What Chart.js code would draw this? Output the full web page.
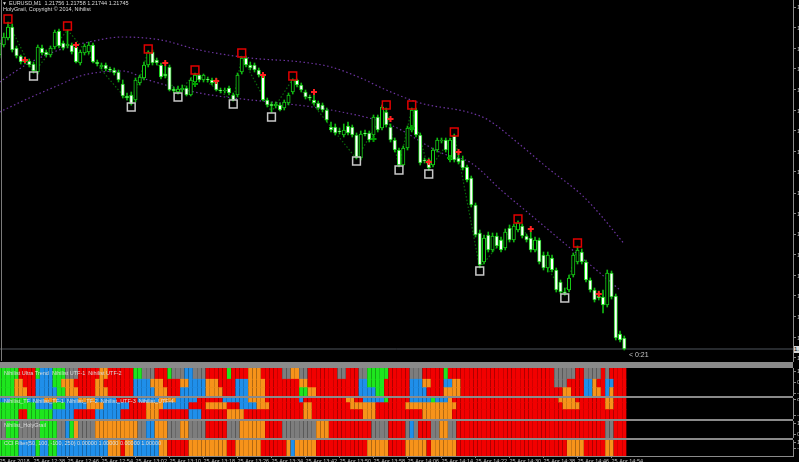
<!DOCTYPE html>
<html>
<head>
<meta charset="utf-8">
<script src="https://cdn.jsdelivr.net/npm/chart.js@4.4.0/dist/chart.umd.min.js"></script>
<style>
  html, body { margin: 0; padding: 0; background: #000; }
  #wrap { position: relative; width: 799px; height: 462px; overflow: hidden; background: #000; }
  #wrap canvas { position: absolute; left: 0; }
  .txt { position: absolute; color: #dcdcdc; font-family: "Liberation Sans", Arial, sans-serif; font-size: 5.5px; line-height: 1; white-space: pre; }
  .sep { position: absolute; left: 0; width: 793px; background: #8a8a8a; }
</style>
</head>
<body>
<div id="wrap">
  <canvas id="main" width="799" height="362" style="top:0"></canvas>
  <canvas id="sub1" width="799" height="28" style="top:368px"></canvas>
  <canvas id="sub2" width="799" height="21" style="top:398px"></canvas>
  <canvas id="sub3" width="799" height="17" style="top:421px"></canvas>
  <canvas id="sub4" width="799" height="22" style="top:440px"></canvas>

  <div class="sep" style="top:362px;height:6px"></div>
  <div class="sep" style="top:396px;height:2px"></div>
  <div class="sep" style="top:419px;height:2px"></div>
  <div class="sep" style="top:438px;height:2px"></div>
  <div style="position:absolute;left:1px;top:0;width:1px;height:361px;background:#7a7a7a"></div>

  <div class="txt" style="left:2px;top:1px;font-size:5px">&#9660;</div>
  <div class="txt" style="left:9px;top:1px">EURUSD,M1  1.21756 1.21758 1.21744 1.21745</div>
  <div class="txt" style="left:3px;top:7px">HolyGrail, Copyright © 2014, Nihilist</div>
  <div class="txt" style="left:629px;top:351px;font-size:7px;color:#c8c8c8">&lt; 0:21</div>
  <div class="txt" style="left:794px;top:346px;width:30px;height:7px;background:#d8d8d8;color:#000;font-size:6px">1.21745</div>

  <div class="txt" style="left:4px;top:371px">Nihilist Ultra Trend  Nihilist UTF-1  Nihilist UTF-2</div>
  <div class="txt" style="left:4px;top:399px">Nihilist_TF  Nihilist_TF-1  Nihilist_TF-2  Nihilist_UTF-3  Nihilist_UTF-4</div>
  <div class="txt" style="left:4px;top:423px">Nihilist_HolyGrail</div>
  <div class="txt" style="left:4px;top:441px">CCI Filter(50, 100, -100, 250) 0.00000 1.00000 0.00000 1.00000</div>
</div>

<script>
// EURUSD M1, 25 Apr 2018, 12:30 .. 14:57 (one entry per minute bar)
const OPEN = [
  1.22039, 1.22049, 1.22056, 1.22067, 1.22046, 1.22038, 1.22034, 1.22033, 1.22030, 1.22022,
  1.22046, 1.22042, 1.22039, 1.22047, 1.22063, 1.22051, 1.22048, 1.22049, 1.22047, 1.22031,
  1.22041, 1.22042, 1.22049, 1.22032, 1.22027, 1.22029, 1.22025, 1.22024, 1.22022, 1.22010,
  1.21998, 1.21999, 1.21994, 1.22011, 1.22016, 1.22029, 1.22042, 1.22034, 1.22029, 1.22020,
  1.22027, 1.22005, 1.22002, 1.22004, 1.22006, 1.21999, 1.22012, 1.22019, 1.22014, 1.22015,
  1.22014, 1.22014, 1.22004, 1.22003, 1.22006, 1.21999, 1.21999, 1.22022, 1.22036, 1.22029,
  1.22029, 1.22024, 1.22018, 1.21994, 1.21990, 1.21988, 1.21989, 1.21986, 1.21991, 1.22002,
  1.22014, 1.22009, 1.22002, 1.21997, 1.21994, 1.21991, 1.21989, 1.21984, 1.21967, 1.21967,
  1.21963, 1.21959, 1.21968, 1.21967, 1.21959, 1.21936, 1.21961, 1.21961, 1.21959, 1.21977,
  1.21966, 1.21982, 1.21967, 1.21954, 1.21944, 1.21929, 1.21946, 1.21964, 1.21984, 1.21959,
  1.21934, 1.21934, 1.21929, 1.21944, 1.21953, 1.21954, 1.21934, 1.21958, 1.21936, 1.21934,
  1.21927, 1.21916, 1.21889, 1.21861, 1.21832, 1.21859, 1.21844, 1.21858, 1.21854, 1.21846,
  1.21866, 1.21854, 1.21864, 1.21868, 1.21858, 1.21856, 1.21844, 1.21854, 1.21839, 1.21826,
  1.21836, 1.21824, 1.21812, 1.21802, 1.21804, 1.21819, 1.21832, 1.21842, 1.21832, 1.21814,
  1.21804, 1.21798, 1.21797, 1.21789, 1.21821, 1.21798, 1.21760, 1.21756
];
const HIGH = [
  1.22054, 1.22061, 1.22072, 1.22070, 1.22048, 1.22039, 1.22037, 1.22035, 1.22032, 1.22049,
  1.22049, 1.22044, 1.22048, 1.22064, 1.22065, 1.22053, 1.22064, 1.22051, 1.22049, 1.22044,
  1.22050, 1.22052, 1.22051, 1.22034, 1.22031, 1.22031, 1.22027, 1.22026, 1.22024, 1.22014,
  1.22001, 1.22002, 1.22016, 1.22019, 1.22032, 1.22043, 1.22044, 1.22036, 1.22031, 1.22028,
  1.22029, 1.22007, 1.22008, 1.22009, 1.22008, 1.22016, 1.22021, 1.22020, 1.22020, 1.22017,
  1.22016, 1.22016, 1.22006, 1.22006, 1.22008, 1.22001, 1.22021, 1.22037, 1.22038, 1.22032,
  1.22031, 1.22026, 1.22020, 1.21996, 1.21992, 1.21992, 1.21991, 1.21994, 1.22001, 1.22015,
  1.22015, 1.22011, 1.22004, 1.21999, 1.21999, 1.21993, 1.21991, 1.21986, 1.21972, 1.21970,
  1.21966, 1.21970, 1.21972, 1.21969, 1.21961, 1.21963, 1.21964, 1.21963, 1.21979, 1.21979,
  1.21989, 1.21986, 1.21970, 1.21956, 1.21946, 1.21948, 1.21968, 1.21986, 1.21986, 1.21961,
  1.21936, 1.21936, 1.21946, 1.21956, 1.21956, 1.21956, 1.21956, 1.21960, 1.21942, 1.21938,
  1.21929, 1.21918, 1.21891, 1.21864, 1.21859, 1.21862, 1.21861, 1.21861, 1.21857, 1.21865,
  1.21869, 1.21870, 1.21873, 1.21870, 1.21860, 1.21864, 1.21857, 1.21856, 1.21842, 1.21842,
  1.21839, 1.21826, 1.21814, 1.21806, 1.21819, 1.21841, 1.21848, 1.21845, 1.21834, 1.21816,
  1.21806, 1.21803, 1.21804, 1.21824, 1.21823, 1.21800, 1.21763, 1.21758
];
const LOW = [
  1.22036, 1.22047, 1.22054, 1.22042, 1.22036, 1.22030, 1.22030, 1.22027, 1.22021, 1.22020,
  1.22039, 1.22037, 1.22037, 1.22045, 1.22046, 1.22044, 1.22046, 1.22040, 1.22031, 1.22029,
  1.22039, 1.22040, 1.22031, 1.22028, 1.22025, 1.22023, 1.22022, 1.22019, 1.22012, 1.21996,
  1.21994, 1.21989, 1.21992, 1.22009, 1.22014, 1.22027, 1.22029, 1.22029, 1.22015, 1.22016,
  1.22003, 1.22001, 1.22000, 1.22002, 1.21998, 1.21998, 1.22010, 1.22012, 1.22012, 1.22012,
  1.22009, 1.22003, 1.22001, 1.22001, 1.21999, 1.21993, 1.21997, 1.22020, 1.22027, 1.22024,
  1.22022, 1.22017, 1.21993, 1.21987, 1.21982, 1.21986, 1.21983, 1.21984, 1.21989, 1.22000,
  1.22007, 1.22002, 1.21995, 1.21994, 1.21989, 1.21984, 1.21982, 1.21972, 1.21962, 1.21959,
  1.21960, 1.21957, 1.21959, 1.21957, 1.21935, 1.21934, 1.21958, 1.21952, 1.21957, 1.21962,
  1.21964, 1.21967, 1.21952, 1.21942, 1.21927, 1.21928, 1.21944, 1.21962, 1.21957, 1.21929,
  1.21931, 1.21924, 1.21927, 1.21942, 1.21951, 1.21942, 1.21932, 1.21932, 1.21930, 1.21924,
  1.21912, 1.21887, 1.21857, 1.21826, 1.21830, 1.21842, 1.21842, 1.21846, 1.21842, 1.21844,
  1.21852, 1.21852, 1.21862, 1.21856, 1.21852, 1.21842, 1.21842, 1.21830, 1.21824, 1.21822,
  1.21822, 1.21802, 1.21800, 1.21799, 1.21802, 1.21817, 1.21830, 1.21830, 1.21812, 1.21802,
  1.21792, 1.21794, 1.21781, 1.21787, 1.21795, 1.21754, 1.21752, 1.21744
];
const CLOSE = [
  1.22051, 1.22057, 1.22067, 1.22044, 1.22038, 1.22032, 1.22032, 1.22029, 1.22023, 1.22047,
  1.22041, 1.22039, 1.22046, 1.22062, 1.22048, 1.22046, 1.22050, 1.22042, 1.22032, 1.22042,
  1.22048, 1.22049, 1.22032, 1.22030, 1.22029, 1.22025, 1.22024, 1.22021, 1.22014, 1.21998,
  1.21996, 1.21990, 1.22014, 1.22017, 1.22029, 1.22042, 1.22031, 1.22031, 1.22017, 1.22018,
  1.22004, 1.22003, 1.22005, 1.22006, 1.21999, 1.22014, 1.22019, 1.22014, 1.22019, 1.22014,
  1.22011, 1.22004, 1.22003, 1.22004, 1.22001, 1.21994, 1.22019, 1.22036, 1.22029, 1.22026,
  1.22024, 1.22019, 1.21994, 1.21989, 1.21988, 1.21990, 1.21984, 1.21992, 1.21999, 1.22014,
  1.22009, 1.22004, 1.21997, 1.21996, 1.21991, 1.21986, 1.21984, 1.21974, 1.21964, 1.21961,
  1.21962, 1.21964, 1.21961, 1.21959, 1.21937, 1.21960, 1.21960, 1.21954, 1.21977, 1.21964,
  1.21987, 1.21969, 1.21954, 1.21944, 1.21929, 1.21946, 1.21966, 1.21984, 1.21959, 1.21931,
  1.21933, 1.21926, 1.21944, 1.21954, 1.21954, 1.21944, 1.21954, 1.21934, 1.21932, 1.21926,
  1.21914, 1.21889, 1.21859, 1.21829, 1.21856, 1.21844, 1.21858, 1.21848, 1.21844, 1.21862,
  1.21854, 1.21868, 1.21871, 1.21858, 1.21854, 1.21844, 1.21854, 1.21832, 1.21826, 1.21839,
  1.21824, 1.21804, 1.21802, 1.21801, 1.21816, 1.21839, 1.21844, 1.21832, 1.21814, 1.21804,
  1.21794, 1.21796, 1.21789, 1.21821, 1.21797, 1.21756, 1.21754, 1.21745
];
const BID = 1.21745;

// swing markers of the HolyGrail indicator
const SELL_BOX_BARS = [2, 16, 35, 46, 57, 69, 91, 97, 107, 122, 136];
const SELL_BOX_PRICES = [1.22075, 1.22068, 1.22045, 1.22024, 1.22041, 1.22018, 1.21989, 1.21989, 1.21962, 1.21875, 1.21851];
const BUY_BOX_BARS = [8, 31, 42, 55, 64, 84, 94, 101, 113, 133];
const BUY_BOX_PRICES = [1.22018, 1.21987, 1.21997, 1.21990, 1.21977, 1.21933, 1.21924, 1.21920, 1.21823, 1.21796];
const SELL_CROSS_BARS = [6, 18, 39, 51, 62, 74, 92, 101, 108, 125, 141];
const SELL_CROSS_PRICES = [1.22034, 1.22049, 1.22031, 1.22013, 1.22019, 1.22002, 1.21975, 1.21932, 1.21942, 1.21865, 1.21800];
const BUY_CROSS_BARS = [46, 88, 97, 106];
const BUY_CROSS_PRICES = [1.22010, 1.21955, 1.21966, 1.21936];
const ZIGZAG_BARS = [2, 8, 16, 31, 35, 42, 46, 55, 57, 64, 69, 84, 91, 94, 97, 101, 107, 113, 122, 133, 136];
const ZIGZAG_PRICES = [1.22072, 1.22021, 1.22064, 1.21989, 1.22043, 1.22000, 1.22021, 1.21993, 1.22037, 1.21982,
  1.22015, 1.21935, 1.21986, 1.21927, 1.21986, 1.21924, 1.21960, 1.21826, 1.21873, 1.21799, 1.21848];

// envelope bands (sampled)
const UPPER_BARS = [0, 7, 14, 21, 29, 38, 47, 59, 71, 78, 85, 91, 99, 111, 115, 122, 129, 137, 141, 147];
const UPPER_PRICES = [1.22012, 1.22031, 1.22044, 1.22052, 1.22057, 1.22054, 1.22044, 1.22036, 1.22032, 1.22027,
  1.22016, 1.22004, 1.21991, 1.21981, 1.21974, 1.21951, 1.21926, 1.21899, 1.21881, 1.21850];
const LOWER_BARS = [0, 7, 14, 19, 24, 29, 35, 47, 55, 66, 78, 92, 104, 111, 118, 125, 132, 141, 146];
const LOWER_PRICES = [1.21982, 1.21996, 1.22009, 1.22018, 1.22022, 1.22023, 1.22014, 1.22001, 1.21996, 1.21991,
  1.21984, 1.21969, 1.21941, 1.21931, 1.21904, 1.21879, 1.21854, 1.21822, 1.21804];

const PRICE_TICKS = [1.22087, 1.22066, 1.22045, 1.22025, 1.22004, 1.21983, 1.21963, 1.21942, 1.21922,
  1.21901, 1.21880, 1.21860, 1.21839, 1.21818, 1.21798, 1.21777, 1.21756, 1.21736];

const TIME_TICKS = [0, 8, 16, 24, 32, 40, 48, 56, 64, 72, 80, 88, 96, 104, 112, 120, 128, 136, 144];
const TIME_LABELS = ['25 Apr 2018', '25 Apr 12:38', '25 Apr 12:46', '25 Apr 12:54', '25 Apr 13:02', '25 Apr 13:10',
  '25 Apr 13:18', '25 Apr 13:26', '25 Apr 13:34', '25 Apr 13:42', '25 Apr 13:50', '25 Apr 13:58', '25 Apr 14:06',
  '25 Apr 14:14', '25 Apr 14:22', '25 Apr 14:30', '25 Apr 14:38', '25 Apr 14:46', '25 Apr 14:54'];

// indicator states, run-length coded: G up, R down, O weak down, B weak up, Y flat
const SUB1_TOP = [['G',5],['R',4],['G',1],['B',3],['G',3],['Y',3],['R',5],['O',2],['R',6],['G',2],['Y',3],['R',3],['G',1],['Y',3],['B',2],['Y',3],['R',5],['G',1],['R',4],['O',3],['R',5],['Y',2],['O',2],['Y',2],['R',7],['Y',2],['R',3],['Y',2],['G',5],['R',5],['Y',3],['R',5],['G',1],['R',25],['Y',5],['R',2],['Y',4],['R',1],['Y',1],['R',4]];
const SUB1_MID = [['G',4],['O',2],['R',3],['B',4],['G',2],['O',3],['R',5],['O',2],['R',7],['B',4],['O',3],['R',4],['O',2],['B',4],['O',3],['R',4],['B',3],['O',4],['R',8],['O',2],['R',12],['B',2],['G',4],['R',6],['B',3],['O',2],['R',3],['B',2],['O',2],['R',22],['Y',3],['R',4],['B',2],['O',1],['R',2],['B',2],['R',3]];
const SUB1_BOT = [['G',4],['O',3],['R',2],['B',5],['G',2],['O',3],['R',4],['O',3],['R',6],['B',5],['O',3],['R',3],['B',6],['O',4],['R',3],['B',3],['O',4],['R',8],['G',2],['O',2],['R',10],['B',4],['G',2],['R',6],['B',4],['R',4],['O',4],['R',24],['O',2],['R',3],['B',2],['O',2],['R',1],['B',1],['O',1],['R',3]];
const SUB2_TOP = [['B',3],['G',4],['B',4],['O',3],['B',5],['O',4],['B',5],['R',5],['B',5],['O',4],['B',5],['R',6],['B',6],['O',4],['R',8],['B',1],['R',10],['O',2],['R',2],['B',5],['G',1],['R',5],['B',5],['G',1],['B',3],['O',1],['R',25],['O',4],['R',7],['O',2],['R',3]];
const SUB2_MID = [['G',9],['B',4],['G',3],['B',5],['O',4],['B',6],['R',4],['O',4],['B',6],['R',4],['O',5],['R',3],['B',4],['O',3],['R',8],['O',2],['R',9],['O',6],['R',7],['O',12],['R',25],['O',4],['R',6],['O',2],['R',3]];
const SUB2_BOT = [['G',5],['R',2],['G',6],['B',5],['R',5],['B',6],['R',6],['O',3],['R',7],['B',3],['R',6],['O',4],['R',14],['O',2],['R',12],['O',3],['R',11],['O',7],['R',41]];
const SUB3 = [['Y',2],['G',3],['Y',5],['G',4],['Y',2],['B',1],['G',1],['O',1],['Y',4],['O',10],['Y',2],['B',2],['O',3],['Y',3],['O',2],['Y',4],['R',5],['Y',3],['O',6],['R',4],['Y',8],['O',3],['R',10],['Y',4],['R',4],['Y',1],['B',1],['Y',1],['R',3],['Y',2],['O',2],['Y',2],['R',35],['Y',2],['R',3]];
const SUB4 = [['G',5],['B',4],['G',1],['B',2],['G',2],['B',12],['O',3],['R',1],['O',2],['B',6],['O',2],['R',5],['O',9],['R',2],['O',6],['R',6],['O',1],['B',1],['O',5],['R',12],['O',5],['R',4],['O',5],['R',1],['O',6],['R',26],['O',4],['R',5],['O',2],['R',3]];

const PALETTE = { G: '#1ee61e', R: '#f20000', O: '#f7931a', B: '#1f8fea', Y: '#7d7d7d' };
const AXIS_GRAY = '#8a8a8a';
const FONT = '"Liberation Sans", Arial, sans-serif';
const X_MIN = 0.12;
const X_MAX = 186.7;

Chart.defaults.font.family = FONT;
Chart.defaults.animation = false;

const BARS = OPEN.map((_, i) => i);
const pts = (xs, ys) => xs.map((x, k) => ({ x: x, y: ys[k] }));

function expand(runs) {
    const out = [];
    runs.forEach(([code, n]) => { for (let k = 0; k < n; k++) out.push(code); });
    return out;
}

function rightAxis(min, max, ticks, labels) {
    return {
        position: 'right', min: min, max: max,
        border: { display: true, color: AXIS_GRAY, width: 1 },
        grid: { drawOnChartArea: false, tickLength: 3, color: AXIS_GRAY },
        ticks: { autoSkip: false, padding: 1, color: '#b8b8b8', font: { size: 6 }, callback: (v, i) => labels[i] },
        afterBuildTicks: s => { s.ticks = ticks.map(v => ({ value: v })); },
        afterFit: s => { s.width = 6; s.paddingTop = 0; s.paddingBottom = 0; }
    };
}

const baseOptions = {
    responsive: false,
    animation: false,
    events: [],
    layout: { padding: 0, autoPadding: false },
    plugins: { legend: { display: false }, tooltip: { enabled: false } }
};

// main price window
new Chart(document.getElementById('main'), {
    type: 'bar',
    data: {
        datasets: [
            { type: 'scatter', data: pts(SELL_BOX_BARS, SELL_BOX_PRICES), pointStyle: 'rect', pointRadius: 5.5,
              borderColor: '#e00000', backgroundColor: 'rgba(0,0,0,0)', borderWidth: 1.5, order: 0 },
            { type: 'scatter', data: pts(BUY_BOX_BARS, BUY_BOX_PRICES), pointStyle: 'rect', pointRadius: 5.5,
              borderColor: '#c8c8c8', backgroundColor: 'rgba(0,0,0,0)', borderWidth: 1.5, order: 0 },
            { type: 'scatter', data: pts(SELL_CROSS_BARS, SELL_CROSS_PRICES), pointStyle: 'cross', pointRadius: 3,
              borderColor: '#ff2020', borderWidth: 2, order: 0 },
            { type: 'scatter', data: pts(BUY_CROSS_BARS, BUY_CROSS_PRICES), pointStyle: 'cross', pointRadius: 3,
              borderColor: '#00a000', borderWidth: 2, order: 1 },
            { type: 'bar', data: BARS.map(i => ({ x: i, y: [OPEN[i], CLOSE[i]] })),
              backgroundColor: BARS.map(i => CLOSE[i] < OPEN[i] ? '#ffffff' : '#000000'),
              borderColor: '#16d016', borderWidth: 1, borderSkipped: false, barThickness: 3.4,
              minBarLength: 1, grouped: false, order: 2 },
            { type: 'bar', data: BARS.map(i => ({ x: i, y: [LOW[i], HIGH[i]] })),
              backgroundColor: '#12b812', barThickness: 1, grouped: false, order: 3 },
            { type: 'line', data: pts(ZIGZAG_BARS, ZIGZAG_PRICES), borderColor: '#0a6a0a', borderWidth: 1.2,
              borderDash: [1.5, 2], pointRadius: 0, tension: 0, order: 4 },
            { type: 'line', data: pts(UPPER_BARS, UPPER_PRICES), borderColor: '#6c34a0', borderWidth: 1.2,
              borderDash: [1.5, 2.5], pointRadius: 0, cubicInterpolationMode: 'monotone', order: 5 },
            { type: 'line', data: pts(LOWER_BARS, LOWER_PRICES), borderColor: '#6c34a0', borderWidth: 1.2,
              borderDash: [1.5, 2.5], pointRadius: 0, cubicInterpolationMode: 'monotone', order: 5 },
            { type: 'line', data: [{ x: X_MIN, y: BID }, { x: X_MAX, y: BID }], borderColor: '#4e545c',
              borderWidth: 1, pointRadius: 0, order: 6 }
        ]
    },
    options: {
        ...baseOptions,
        scales: {
            x: { type: 'linear', min: X_MIN, max: X_MAX, offset: false, grid: { offset: false }, display: false },
            y: rightAxis(1.21732, 1.22094, PRICE_TICKS, PRICE_TICKS.map(v => v.toFixed(5)))
        }
    }
});

// indicator sub windows
function makePanel(id, rows, shares, tickVals, tickLabels, withTime) {
    const datasets = rows.map((runs, r) => {
        const codes = expand(runs);
        return {
            data: codes.map((c, i) => ({ x: i, y: shares[r] })),
            backgroundColor: codes.map(c => PALETTE[c]),
            borderWidth: 0,
            barThickness: 3.5,
            stack: 'states'
        };
    });
    const x = { type: 'linear', min: X_MIN, max: X_MAX, offset: false, stacked: true, grid: { offset: false }, display: false };
    if (withTime) {
        Object.assign(x, {
            display: true,
            position: 'bottom',
            border: { display: true, color: AXIS_GRAY },
            grid: { offset: false, drawOnChartArea: false, tickLength: 2, color: AXIS_GRAY },
            ticks: { autoSkip: false, maxRotation: 0, minRotation: 0, align: 'start', padding: 0,
                     color: '#c4c4c4', font: { size: 5.5 }, callback: (v, i) => TIME_LABELS[i] },
            afterBuildTicks: s => { s.ticks = TIME_TICKS.map(v => ({ value: v })); },
            afterFit: s => { s.height = 6; s.paddingLeft = 0; s.paddingRight = 0; }
        });
    }
    new Chart(document.getElementById(id), {
        type: 'bar',
        data: { datasets },
        options: {
            ...baseOptions,
            scales: { x: x, y: Object.assign(rightAxis(0, 1, tickVals, tickLabels), { stacked: true }) }
        }
    });
}

makePanel('sub1', [SUB1_BOT, SUB1_MID, SUB1_TOP], [0.3, 0.3, 0.4], [0.89, 0.5, 0.1], ['1', '0.5', '-1'], false);
makePanel('sub2', [SUB2_BOT, SUB2_MID, SUB2_TOP], [0.45, 0.33, 0.22], [0.92, 0.18], ['8', '-8'], false);
makePanel('sub3', [SUB3], [1], [0.85, 0.2], ['1', '0'], false);
makePanel('sub4', [SUB4], [1], [0.85, 0.45], ['1', '-1'], true);
</script>
</body>
</html>
